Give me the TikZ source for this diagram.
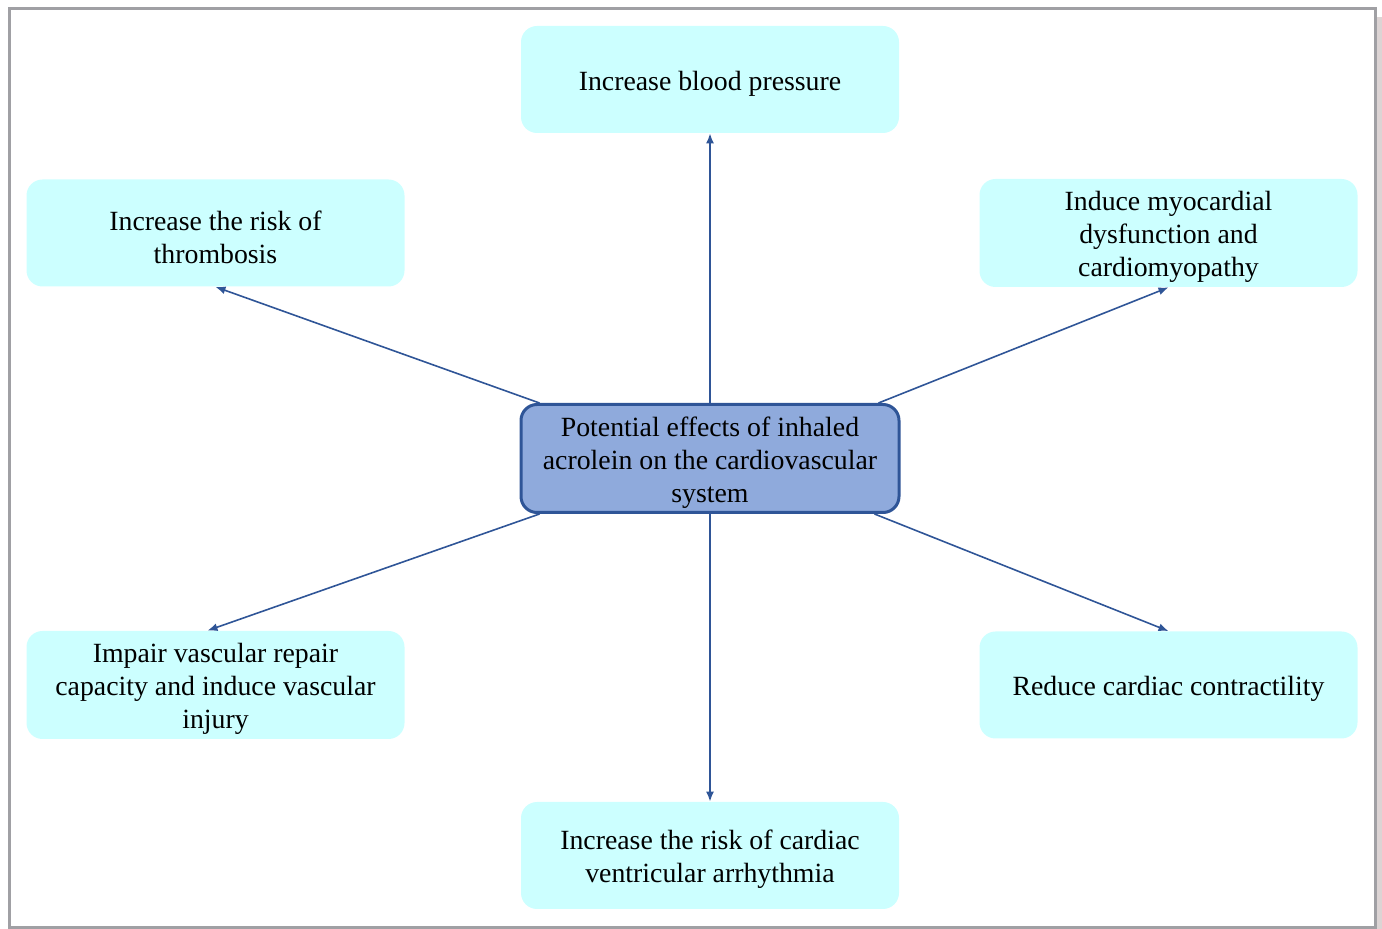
\documentclass[tikz,border=0pt]{standalone}
\usepackage{fontspec}
\setmainfont{Liberation Serif}
\usetikzlibrary{arrows.meta}
\definecolor{boxcyan}{HTML}{CCFFFF}
\definecolor{hubblue}{HTML}{8FAADC}
\definecolor{linkblue}{HTML}{2F5597}
\definecolor{framegray}{HTML}{A0A0A4}
\definecolor{shadegray}{HTML}{DCD4D4}
\newcommand{\topstrut}{\rule{0pt}{14pt}}
\tikzset{
  effect/.style={fill=boxcyan, rounded corners=8pt, minimum width=189pt, minimum height=53.5pt,
    align=center, font=\fontsize{13.9pt}{16.5pt}\selectfont, inner sep=2pt},
  hub/.style={effect, fill=hubblue, draw=linkblue, line width=1.5pt},
  link/.style={draw=linkblue, line width=0.8pt, -{Latex[length=5pt,width=4pt]}}
}
\begin{document}
\begin{tikzpicture}[x=0.5pt, y=-0.5pt]
    \useasboundingbox (0,0) rectangle (1382,929);
    \fill[shadegray] (1377,17) rectangle (1382,929);
    \draw[framegray, line width=1.5pt] (9.5,9) rectangle (1375.5,927.5);
    \node[hub]    (hub) at (710,458.5) {\topstrut Potential effects of inhaled\\acrolein on the cardiovascular\\system};
    \node[effect] (bp)  at (710,79.5)  {\topstrut Increase blood pressure};
    \node[effect] (thr) at (215.5,233) {\topstrut Increase the risk of\\thrombosis};
    \node[effect] (myo) at (1168.5,233) {\topstrut Induce myocardial\\dysfunction and\\cardiomyopathy};
    \node[effect] (vas) at (215.5,685) {\topstrut Impair vascular repair\\capacity and induce vascular\\injury};
    \node[effect] (con) at (1168.5,685) {\topstrut Reduce cardiac contractility};
    \node[effect] (arr) at (710,855.5) {\topstrut Increase the risk of cardiac\\ventricular arrhythmia};
    \draw[link] (hub.north) -- (bp.south);
    \draw[link] ([xshift=10pt]hub.north west) -- (thr.south);
    \draw[link] ([xshift=-11pt]hub.north east) -- (myo.south);
    \draw[link] ([xshift=10pt]hub.south west) -- ([xshift=-4pt]vas.north);
    \draw[link] ([xshift=-13pt]hub.south east) -- (con.north);
    \draw[link] (hub.south) -- (arr.north);
\end{tikzpicture}
\end{document}
